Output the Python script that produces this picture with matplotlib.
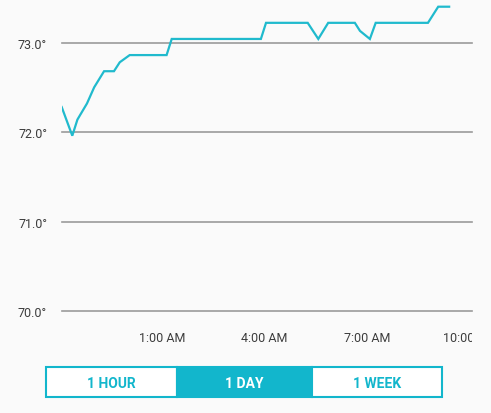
import matplotlib
matplotlib.use("Agg")
import matplotlib.pyplot as plt
from matplotlib.patches import Rectangle
from matplotlib.transforms import Bbox, TransformedBbox

# hours relative to midnight, temperature in degrees F
hours = [-1.93, -1.62, -1.47, -1.19, -0.98, -0.69, -0.40, -0.23, 0.06, 1.14,
         1.29, 3.90, 4.05, 5.27, 5.58, 5.87, 6.65, 6.80, 7.09, 7.26,
         8.79, 9.09, 9.41]
temps = [72.28, 71.96, 72.14, 72.32, 72.50, 72.68, 72.68, 72.78, 72.86, 72.86,
         73.04, 73.04, 73.22, 73.22, 73.04, 73.22, 73.22, 73.13, 73.04, 73.22,
         73.22, 73.40, 73.40]

y_ticks = [70.0, 71.0, 72.0, 73.0]
x_ticks = [1, 4, 7, 10]
x_labels = ["1:00 AM", "4:00 AM", "7:00 AM", "10:00 AM"]
buttons = ["1 HOUR", "1 DAY", "1 WEEK"]
selected = "1 DAY"

CYAN = "#12b6cc"
BG = "#fafafa"
GRID = "#9a9a9a"
TEXT = "#3c3c3c"

plt.rcParams["font.family"] = ["Roboto", "DejaVu Sans"]

W, H = 491, 414
fig = plt.figure(figsize=(W / 100, H / 100), dpi=100, facecolor=BG)

# plot area: 61.7..471.7 px wide, 0..312.3 px high
ax = fig.add_axes([61.7 / W, (H - 312.3) / H, 410 / W, 312.3 / H])
ax.set_facecolor(BG)
ax.plot(hours, temps, color="#20bacd", lw=1.6, solid_joinstyle="miter")
ax.set_xlim(-1.93, 10.07)
ax.set_ylim(70.0, 73.486)

for s in ax.spines.values():
    s.set_visible(False)

ax.set_yticks(y_ticks)
ax.set_yticklabels([f"{v:.1f}°" for v in y_ticks])
ax.set_xticks(x_ticks)
ax.set_xticklabels(x_labels)
ax.tick_params(axis="y", length=0, pad=10.5, labelsize=9, labelcolor=TEXT)
ax.tick_params(axis="x", length=0, pad=14, labelsize=9, labelcolor=TEXT)
ax.grid(axis="y", color=GRID, lw=1.2)
ax.grid(axis="x", visible=False)
for gl in ax.get_ygridlines():
    gl.set_clip_on(False)

# the last time label is cut at the right edge of the plot, as in the app
clip = TransformedBbox(Bbox([[0, 0], [471.7 / W, 1]]), fig.transFigure)
for lab in ax.get_xticklabels():
    lab.set_clip_box(clip)
    lab.set_clip_on(True)

# segmented range selector
bx = fig.add_axes([0, 0, 1, 1])
bx.set_xlim(0, W)
bx.set_ylim(H, 0)
bx.axis("off")
bx.patch.set_alpha(0)
edges = [46, 176.7, 311.7, 441.7]
top, bottom = 368.3, 398.3
for i, name in enumerate(buttons):
    x0, x1 = edges[i], edges[i + 1]
    on = name == selected
    bx.add_patch(Rectangle((x0, top), x1 - x0, bottom - top,
                           facecolor=CYAN if on else "white",
                           edgecolor=CYAN, lw=1.5))
    bx.text((x0 + x1) / 2, (top + bottom) / 2 + 0.5, name,
            ha="center", va="center", fontsize=10, fontweight="bold",
            color="white" if on else CYAN)

fig.savefig("out.png", dpi=100, facecolor=BG)
